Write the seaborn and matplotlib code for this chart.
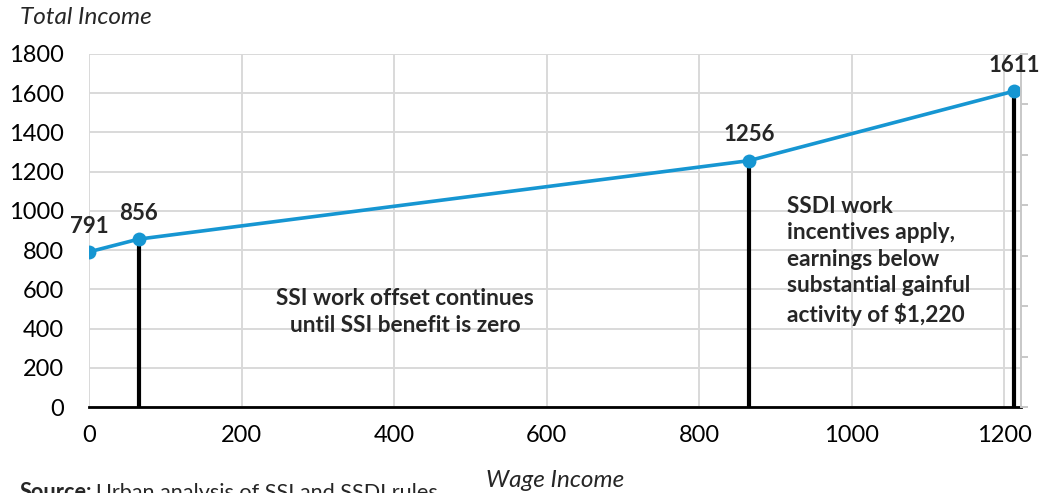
import matplotlib
matplotlib.use("Agg")
import matplotlib.pyplot as plt
import seaborn as sns
import pandas as pd

# Wage income vs total income
wage = [0, 65, 865, 1213]
total = [791, 856, 1256, 1611]
point_labels = ["791", "856", "1256", "1611"]

# Vertical markers at key wage thresholds
marker_wage = [65, 865, 1213]
marker_total = [856, 1256, 1611]

x_ticks = [0, 200, 400, 600, 800, 1000, 1200]
y_ticks = [0, 200, 400, 600, 800, 1000, 1200, 1400, 1600, 1800]

sns.set_theme(style="white")
plt.rcParams["font.family"] = ["Lato", "DejaVu Sans"]

BLUE = "#1696d2"
GRID = "#d9d9d9"

fig = plt.figure(figsize=(10.41, 4.93), dpi=100)
ax = fig.add_axes([0.0855, 0.1744, 0.8955, 0.7161])

df = pd.DataFrame({"wage": wage, "total": total})

ax.vlines(marker_wage, 0, marker_total, color="black", linewidth=3, zorder=3)
sns.lineplot(data=df, x="wage", y="total", ax=ax, color=BLUE, linewidth=2.6,
             marker="o", markersize=10, markeredgewidth=0, zorder=4)

ax.set_xlim(0, 1222)
ax.set_ylim(0, 1800)
ax.set_xticks(x_ticks)
ax.set_yticks(y_ticks)
ax.tick_params(axis="both", labelsize=17, length=0, colors="black")
ax.tick_params(axis="x", pad=13)
ax.tick_params(axis="y", pad=18)
ax.grid(True, color=GRID, linewidth=1.4, zorder=0)
ax.set_axisbelow(True)
for side in ["left", "top", "right"]:
    ax.spines[side].set_visible(False)
ax.spines["bottom"].set_color("black")
ax.spines["bottom"].set_linewidth(2)
ax.spines["bottom"].set_zorder(5)
ax.set_xlabel("")
ax.set_ylabel("")

# Secondary axis on the right with unlabeled tick marks
ax2 = ax.twinx()
ax2.set_ylim(0, 7)
ax2.set_yticks(range(8))
ax2.set_yticklabels([])
ax2.tick_params(axis="y", length=5, width=1.4, color="#c8c8c8", direction="out")
for side in ["left", "top", "bottom"]:
    ax2.spines[side].set_visible(False)
ax2.spines["right"].set_color("#c8c8c8")
ax2.spines["right"].set_linewidth(1.4)
ax2.grid(False)

# Value labels above points
for xv, yv, lab in zip(wage, total, point_labels):
    ax2.annotate(lab, (xv, yv), xycoords=ax.transData, xytext=(0, 11),
                 textcoords="offset points", ha="center", va="bottom",
                 fontsize=16, fontweight="bold", zorder=6)

ax.text(414, 484, "SSI work offset continues\nuntil SSI benefit is zero",
        ha="center", va="center", fontsize=16.3, fontweight="bold",
        linespacing=1.33, zorder=6)
ax.text(915, 1078, "SSDI work\nincentives apply,\nearnings below\nsubstantial gainful\nactivity of $1,220",
        ha="left", va="top", fontsize=16.3, fontweight="bold",
        linespacing=1.33, zorder=6)

fig.text(20 / 1041, 1 - 24 / 493, "Total Income", ha="left", va="baseline",
         fontsize=17.5, fontstyle="italic")
fig.text(0.5 * (0.0855 + 0.981), 1 - 487 / 493, "Wage Income", ha="center",
         va="baseline", fontsize=17.5, fontstyle="italic")

# Source line: bold lead-in followed by regular text
src_y = -6 / 493
src = fig.text(20 / 1041, src_y, "Source:", ha="left", va="baseline",
               fontsize=15.6, fontweight="bold")
fig.canvas.draw()
bb = src.get_window_extent()
fig.text((bb.x1 + 4) / fig.bbox.width, src_y, "Urban analysis of SSI and SSDI rules",
         ha="left", va="baseline", fontsize=15.6)

fig.savefig("out.png", dpi=100)
